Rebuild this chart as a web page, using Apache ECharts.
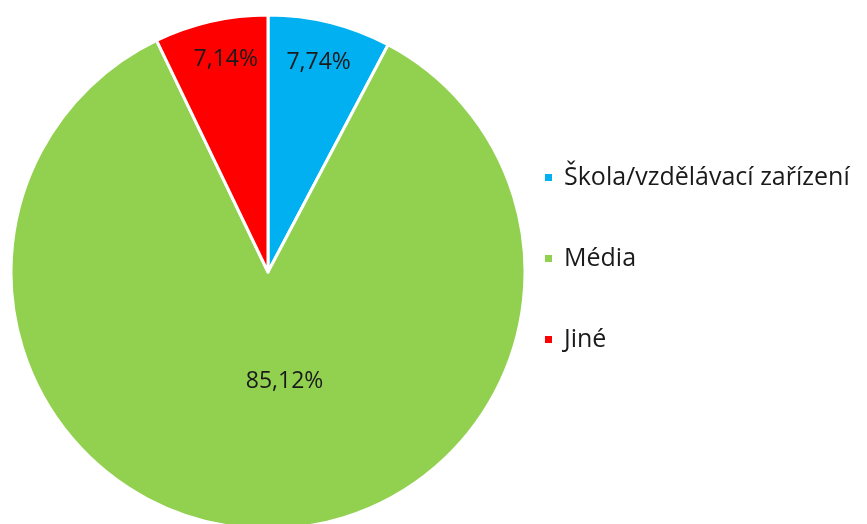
<!DOCTYPE html>
<html>
<head>
<meta charset="utf-8">
<script src="https://cdn.jsdelivr.net/npm/echarts@6/dist/echarts.min.js"></script>
<style>
html,body{margin:0;padding:0;background:#fff;}
#chart{width:867px;height:524px;}
</style>
</head>
<body>
<div id="chart"></div>
<script>
const categories = ['Škola/vzdělávací zařízení', 'Média', 'Jiné'];
const values = [7.74, 85.12, 7.14];
const colors = ['#00B0F0', '#92D050', '#FF0000'];

const FONT = 'Open Sans';
const chart = echarts.init(document.getElementById('chart'));
const labelOffsets = [[19, -82], [19, -22], [-13, -84]];

chart.setOption({
  animation: false,
  legend: {
    orient: 'vertical',
    left: 543,
    top: 165,
    padding: 0,
    itemWidth: 9,
    itemHeight: 9,
    itemGap: 56,
    icon: 'rect',
    textStyle: { fontFamily: FONT, fontSize: 25, color: '#1a1a1a', lineHeight: 24, padding: [0, 0, 0, 6] },
    data: categories
  },
  series: [{
    type: 'pie',
    center: [268, 272],
    radius: [0, 257],
    startAngle: 90,
    clockwise: true,
    avoidLabelOverlap: false,
    itemStyle: { borderColor: '#fff', borderWidth: 3 },
    label: {
      show: true,
      position: 'inside',
      fontFamily: FONT,
      fontSize: 23,
      color: '#1a1a1a',
      formatter: function (p) { return p.value.toFixed(2).replace('.', ',') + '%'; }
    },
    labelLine: { show: false },
    labelLayout: function (p) {
      const o = labelOffsets[p.dataIndex];
      return { dx: o[0], dy: o[1] };
    },
    emphasis: { disabled: true },
    data: categories.map((c, i) => ({ name: c, value: values[i], itemStyle: { color: colors[i] } }))
  }]
});
</script>
</body>
</html>
